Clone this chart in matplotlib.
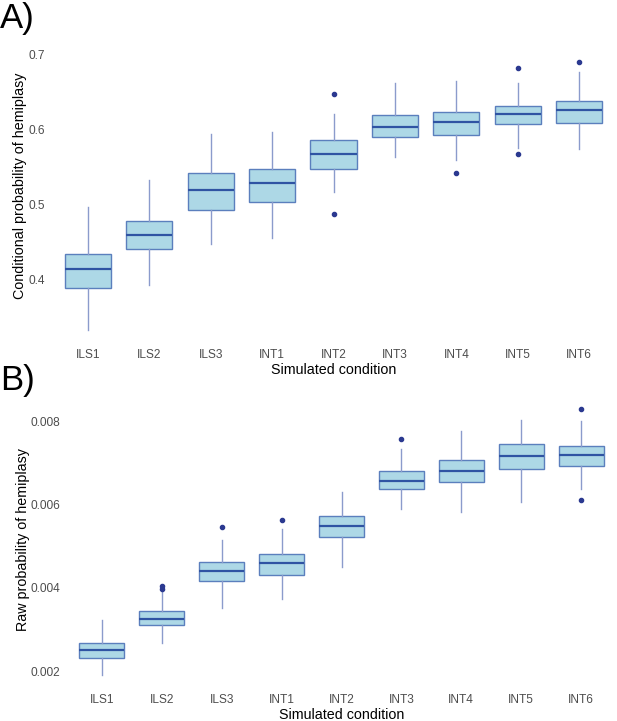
import matplotlib
matplotlib.use("Agg")
import matplotlib.pyplot as plt

plt.rcParams['font.family'] = ['Liberation Sans', 'DejaVu Sans']

categorias = ["ILS1", "ILS2", "ILS3", "INT1", "INT2", "INT3", "INT4", "INT5", "INT6"]

# Panel A: probabilidad condicional (whislo, q1, med, q3, whishi)
cond_whislo = [0.333, 0.393, 0.447, 0.456, 0.517, 0.564, 0.560, 0.575, 0.574]
cond_q1 = [0.389, 0.441, 0.493, 0.503, 0.548, 0.590, 0.593, 0.608, 0.609]
cond_med = [0.414, 0.459, 0.520, 0.529, 0.568, 0.604, 0.611, 0.621, 0.627]
cond_q3 = [0.434, 0.478, 0.542, 0.547, 0.586, 0.620, 0.624, 0.632, 0.638]
cond_whishi = [0.497, 0.533, 0.594, 0.597, 0.621, 0.663, 0.665, 0.663, 0.677]
cond_out = [[], [], [], [], [0.648, 0.488], [], [0.542], [0.683, 0.568], [0.690]]

# Panel B: probabilidad cruda
raw_whislo = [0.00192, 0.00267, 0.00351, 0.00373, 0.00450, 0.00588, 0.00582, 0.00607, 0.00637]
raw_q1 = [0.00232, 0.00310, 0.00416, 0.00431, 0.00523, 0.00636, 0.00655, 0.00685, 0.00692]
raw_med = [0.00250, 0.00326, 0.00440, 0.00460, 0.00548, 0.00656, 0.00681, 0.00717, 0.00718]
raw_q3 = [0.00268, 0.00344, 0.00462, 0.00481, 0.00572, 0.00680, 0.00706, 0.00746, 0.00740]
raw_whishi = [0.00322, 0.00389, 0.00515, 0.00542, 0.00631, 0.00732, 0.00776, 0.00802, 0.00799]
raw_out = [[], [0.00404, 0.00397], [0.00546], [0.00562], [], [0.00758], [], [], [0.00828, 0.00611]]

W, H = 617, 721
fig = plt.figure(figsize=(W / 100, H / 100), dpi=100)


def pix_axes(x0, y0, x1, y1):
    """Crea ejes a partir de coordenadas en pixeles (origen arriba-izquierda)"""
    return fig.add_axes([x0 / W, 1 - y1 / H, (x1 - x0) / W, (y1 - y0) / H])


def dibujar_panel(ax, whislo, q1, med, q3, whishi, outs, ylabel, yticks, yticklabels, ylim, ylab_pos):
    stats = []
    for i, nombre in enumerate(categorias):
        stats.append({"label": nombre, "whislo": whislo[i], "q1": q1[i], "med": med[i],
                      "q3": q3[i], "whishi": whishi[i], "fliers": outs[i]})
    ax.bxp(stats, positions=range(1, len(categorias) + 1), widths=0.75,
           patch_artist=True, showcaps=False,
           boxprops=dict(facecolor="#add8e6", edgecolor="#5b7fbd", linewidth=1.0),
           medianprops=dict(color="#2f54a3", linewidth=1.6),
           whiskerprops=dict(color="#8b9bcc", linewidth=1.0),
           flierprops=dict(marker="o", markersize=3.0, markerfacecolor="#2b3990",
                           markeredgecolor="#2b3990"))
    ax.set_xlim(0.4, 9.6)
    ax.set_ylim(*ylim)
    ax.set_yticks(yticks)
    ax.set_yticklabels(yticklabels)
    for s in ax.spines.values():
        s.set_visible(False)
    ax.tick_params(length=0, labelsize=8.6, labelcolor="#4d4d4d", pad=4)
    ax.set_xlabel("Simulated condition", fontsize=10.3, labelpad=2)
    ax.set_ylabel(ylabel, fontsize=10.3)
    ax.yaxis.set_label_coords(*ylab_pos)


axA = pix_axes(51, 49, 616, 343)
dibujar_panel(axA, cond_whislo, cond_q1, cond_med, cond_q3, cond_whishi, cond_out,
              "Conditional probability of hemiplasy",
              [0.4, 0.5, 0.6, 0.7], ["0.4", "0.5", "0.6", "0.7"], (0.315, 0.708),
              (-0.043, 0.535))

axB = pix_axes(66, 396, 617, 688)
dibujar_panel(axB, raw_whislo, raw_q1, raw_med, raw_q3, raw_whishi, raw_out,
              "Raw probability of hemiplasy",
              [0.002, 0.004, 0.006, 0.008], ["0.002", "0.004", "0.006", "0.008"], (0.0016, 0.0086),
              (-0.065, 0.507))

fig.text(0, 1 - 2 / H, "A)", fontsize=25, va="top", ha="left")
fig.text(0, 1 - 364 / H, "B)", fontsize=25, va="top", ha="left")

fig.savefig("out.png", dpi=100)
plt.close()
